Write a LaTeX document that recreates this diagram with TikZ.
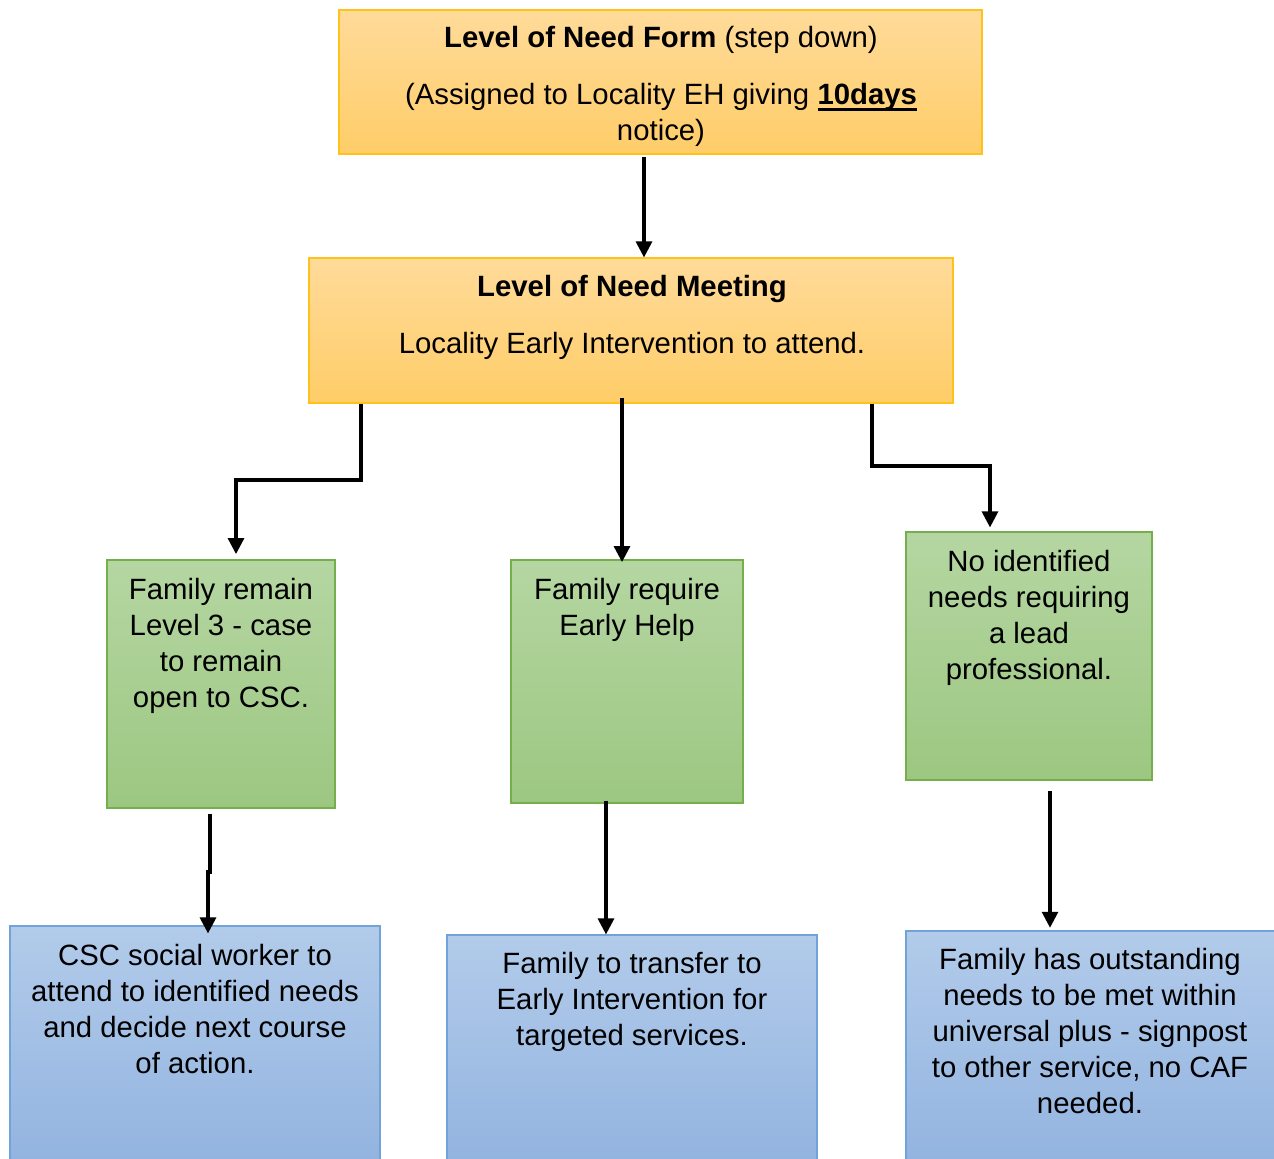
\documentclass[tikz,border=0pt]{standalone}
\usepackage{fontspec}
\setmainfont{Liberation Sans}
\usetikzlibrary{fit,arrows.meta}
\definecolor{formtop}{HTML}{FFDB9A}
\definecolor{formbot}{HTML}{FFCD68}
\definecolor{formline}{HTML}{FFC21A}
\definecolor{needtop}{HTML}{B5D6A2}
\definecolor{needbot}{HTML}{9CC781}
\definecolor{needline}{HTML}{74AF4C}
\definecolor{outtop}{HTML}{B2CBEA}
\definecolor{outbot}{HTML}{93B4E0}
\definecolor{outline}{HTML}{6FA3DA}
\newcommand{\lonbox}[1]{\fontsize{22pt}{27pt}\selectfont #1}
\newcommand{\daysul}[1]{\setbox0\hbox{#1}\rlap{\copy0}\rule[-4.5pt]{\wd0}{1.8pt}}

\begin{document}
\begin{tikzpicture}[x=0.75pt,y=-0.75pt,
	stagebox/.style={inner sep=0pt, line width=0.9pt, draw=formline, top color=formtop, bottom color=formbot},
	needbox/.style={inner sep=0pt, line width=0.9pt, draw=needline, top color=needtop, bottom color=needbot},
	outbox/.style={inner sep=0pt, line width=0.9pt, draw=outline, top color=outtop, bottom color=outbot},
	boxtext/.style={inner sep=0pt, anchor=north, align=center, font=\lonbox},
	conn/.style={line width=2.3pt, -{Triangle[length=12pt,width=12pt]}}]
	\useasboundingbox (0,0) rectangle (1274,1158);

	% boxes
	\node[stagebox, fit={(339,10) (982,154)}] (form) {};
	\node[stagebox, fit={(309,258) (953,403)}] (mtg) {};
	\node[needbox, fit={(107,560) (335,808)}] (g1) {};
	\node[needbox, fit={(511,560) (743,803)}] (g2) {};
	\node[needbox, fit={(906,532) (1152,780)}] (g3) {};
	\node[outbox, fit={(10,926) (380,1160)}] (b1) {};
	\node[outbox, fit={(447,935) (817,1160)}] (b2) {};
	\node[outbox, fit={(906,931) (1276,1160)}] (b3) {};

	% texts
	\node[boxtext] (formt) at (661,26) {\textbf{Level of Need Form} (step down)\\[16pt]
		(Assigned to Locality EH giving \daysul{\textbf{10days}}\\ notice)};
	\node[boxtext] (mtgt) at (632,275) {\textbf{Level of Need Meeting}\\[16pt]
		Locality Early Intervention to attend.};
	\node[boxtext] (g1t) at (221,578) {Family remain\\ Level 3 - case\\ to remain\\ open to CSC.};
	\node[boxtext] (g2t) at (627,578) {Family require\\ Early Help};
	\node[boxtext] (g3t) at (1029,550) {No identified\\ needs requiring\\ a lead\\ professional.};
	\node[boxtext] (b1t) at (195,944) {CSC social worker to\\ attend to identified needs\\ and decide next course\\ of action.};
	\node[boxtext] (b2t) at (632,952) {Family to transfer to\\ Early Intervention for\\ targeted services.};
	\node[boxtext] (b3t) at (1090,948) {Family has outstanding\\ needs to be met within\\ universal plus - signpost\\ to other service, no CAF\\ needed.};

	% connectors
	\coordinate (cF) at (644,0);
	\coordinate (cL) at (361,0);
	\coordinate (kL) at (236,480);
	\coordinate (cM) at (622,0);
	\coordinate (cR) at (872,0);
	\coordinate (kR) at (990,466);
	\coordinate (c1) at (210,0);
	\coordinate (k1) at (208,872);
	\coordinate (c2) at (606,0);
	\coordinate (c3) at (1050,0);
	\draw[conn, shorten <=2pt] (form.south -| cF) -- (mtg.north -| cF);
	\draw[conn, shorten >=4pt] (mtg.south -| cL) |- (kL) -- (kL |- g1.north);
	\draw[conn, shorten <=-4pt, shorten >=-2pt] (mtg.south -| cM) -- (g2.north -| cM);
	\draw[conn, shorten >=3pt] (mtg.south -| cR) |- (kR) -- (kR |- g3.north);
	\draw[conn, shorten <=4pt, shorten >=-6pt] (g1.south -| c1) |- (k1) -- (k1 |- b1.north);
	\draw[conn, shorten <=-2pt] (g2.south -| c2) -- (b2.north -| c2);
	\draw[conn, shorten <=8pt, shorten >=2pt] (g3.south -| c3) -- (b3.north -| c3);
\end{tikzpicture}
\end{document}
